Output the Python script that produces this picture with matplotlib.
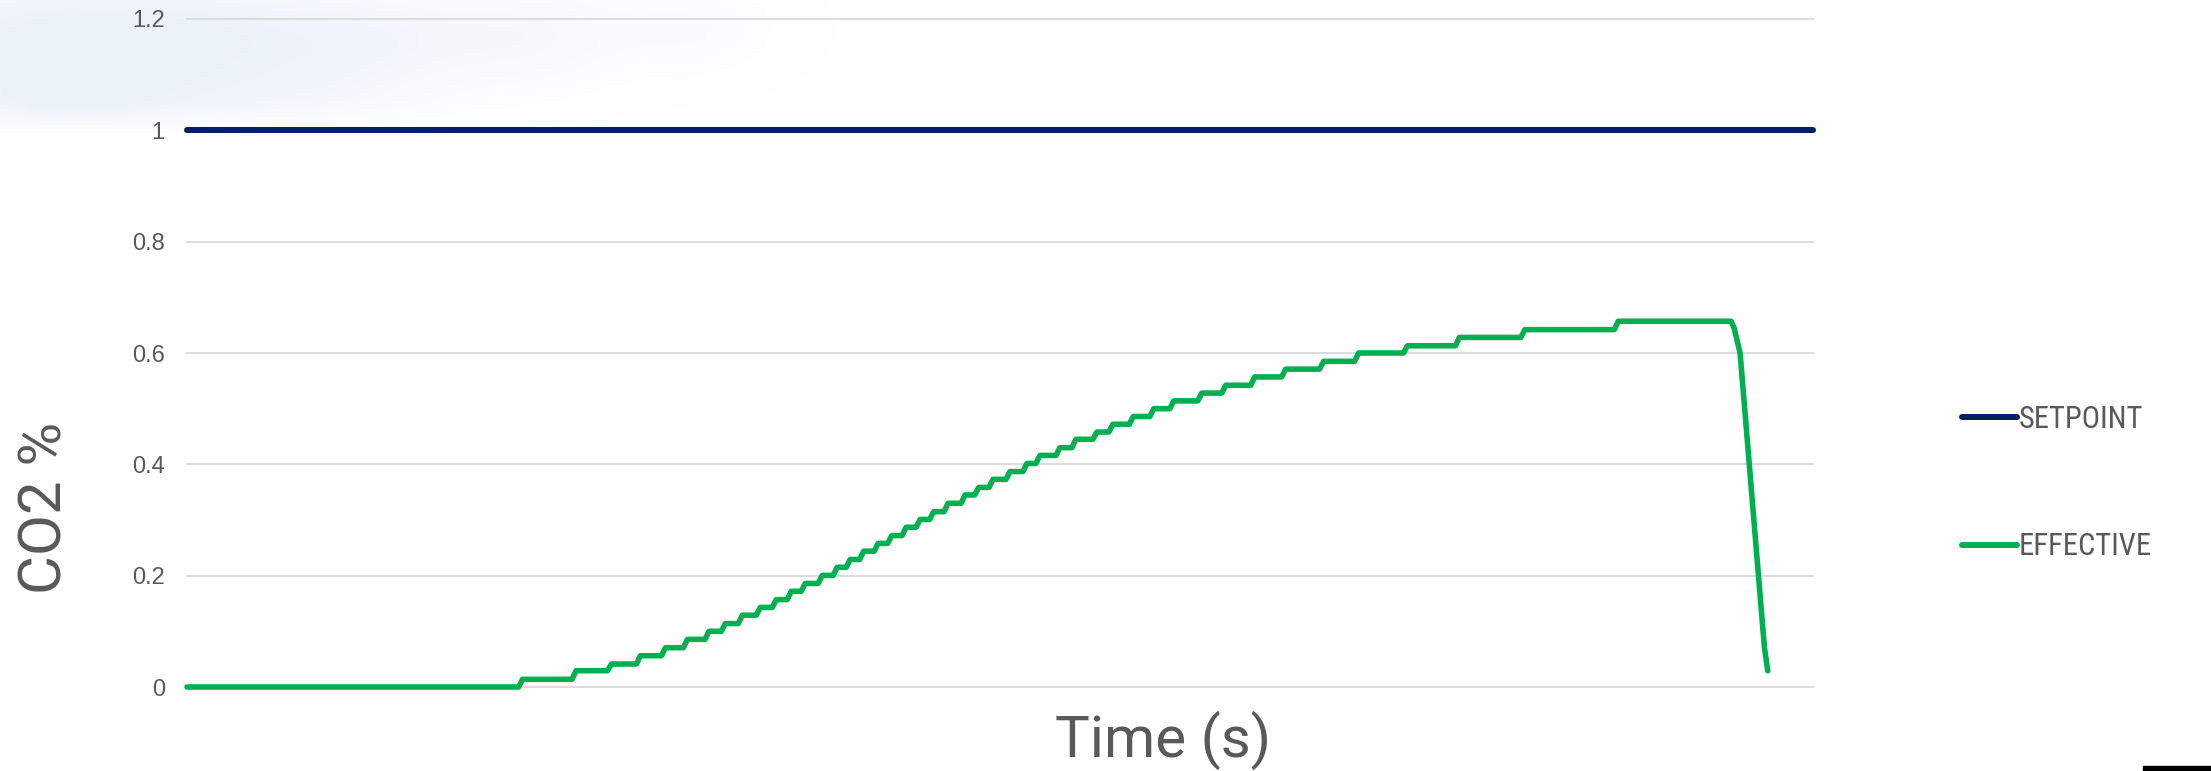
import numpy as np
import matplotlib
matplotlib.use("Agg")
import matplotlib.pyplot as plt
from matplotlib.lines import Line2D
from matplotlib.patches import Rectangle

plt.rcParams['font.family'] = ['Liberation Sans', 'DejaVu Sans']
NARROW = ['Roboto Condensed', 'Liberation Sans Narrow', 'Liberation Sans', 'DejaVu Sans']
TITLE = ['Roboto', 'Liberation Sans', 'DejaVu Sans']

# ---------------- data ----------------
series_names = ["SETPOINT", "EFFECTIVE"]

setpoint_t = [0, 1628]
setpoint_v = [1.0, 1.0]

# times (s) at which EFFECTIVE steps up, and level reached after each step
step_t = [332, 385.5, 421, 450, 475, 497, 518.6, 535, 552, 570, 586, 601, 615,
          632, 647, 660, 673.5, 688, 701.6, 716, 730, 743.6, 758, 775, 788.7,
          803, 820, 837, 850, 870, 886, 907, 923, 943.5, 964, 984, 1012, 1036,
          1065, 1096, 1134, 1169, 1218, 1270, 1335.5, 1429]
step_v = [0.0138, 0.0293, 0.0413, 0.0562, 0.0706, 0.0856, 0.100, 0.114, 0.129,
          0.143, 0.157, 0.172, 0.186, 0.2005, 0.215, 0.229, 0.244, 0.258, 0.272,
          0.287, 0.301, 0.315, 0.330, 0.345, 0.3585, 0.373, 0.387, 0.4016,
          0.416, 0.430, 0.445, 0.458, 0.472, 0.486, 0.500, 0.514, 0.528, 0.542,
          0.557, 0.571, 0.585, 0.600, 0.613, 0.628, 0.642, 0.657]
sample_dt = 4  # sampling interval (s)

# tail: drop after the last step
drop_t = [1546, 1549, 1555, 1579.3, 1582.7]
drop_v = [0.657, 0.645, 0.600, 0.072, 0.029]

y_ticks = [0, 0.2, 0.4, 0.6, 0.8, 1.0, 1.2]
y_tick_labels = ["0", "0.2", "0.4", "0.6", "0.8", "1", "1.2"]

# build EFFECTIVE path
eff_t = [0]
eff_v = [0.0]
prev = 0.0
for t, v in zip(step_t, step_v):
    eff_t += [t, t + sample_dt]
    eff_v += [prev, v]
    prev = v
eff_t += drop_t
eff_v += drop_v

# ---------------- figure ----------------
W, H = 2211, 771
fig = plt.figure(figsize=(W / 100, H / 100), dpi=100)

# faint cloud-like backdrop at top-left
bg = fig.add_axes([0, 1 - 140 / H, 960 / W, 140 / H], zorder=-5)
gx, gy = np.meshgrid(np.linspace(0, 1, 480), np.linspace(0, 1, 70))
blobs = [(0.02, 0.35, 0.14, 0.55, 0.9), (0.2, 0.25, 0.14, 0.45, 0.8),
         (0.38, 0.3, 0.12, 0.4, 0.6), (0.55, 0.25, 0.1, 0.35, 0.45),
         (0.72, 0.2, 0.08, 0.3, 0.25), (0.1, 0.8, 0.15, 0.3, 0.5),
         (0.3, 0.7, 0.12, 0.25, 0.3)]
field = np.zeros_like(gx)
for cx, cy, sx, sy, a in blobs:
    field += a * np.exp(-(((gx - cx) / sx) ** 2 + ((gy - cy) / sy) ** 2))
field = np.clip(field, 0, 1)
fade = np.clip((1 - gy) / 0.25, 0, 1)
rgba = np.zeros(gx.shape + (4,))
rgba[..., 0] = 0.87
rgba[..., 1] = 0.91
rgba[..., 2] = 0.97
rgba[..., 3] = field * fade * 0.55
bg.imshow(rgba, extent=[0, 1, 0, 1], aspect='auto', origin='upper')
bg.axis('off')

ax = fig.add_axes([187 / W, 1 - 687 / H, (1813 - 187) / W, (687 - 19) / H])
ax.patch.set_alpha(0)

ax.plot(setpoint_t, setpoint_v, color='#002060', lw=4.3,
        solid_capstyle='round', label=series_names[0], zorder=3, clip_on=False)
ax.plot(eff_t, eff_v, color='#00B050', lw=4.0, solid_capstyle='round',
        solid_joinstyle='round', label=series_names[1], zorder=3, clip_on=False)

ax.set_xlim(0, 1628)
ax.set_ylim(0, 1.2)
ax.set_yticks(y_ticks)
ax.set_yticklabels(y_tick_labels)
ax.set_xticks([])
ax.yaxis.grid(True, color='#D9D9D9', lw=1.3)
for gl in ax.get_ygridlines():
    gl.set_clip_on(False)
ax.set_axisbelow(True)
for s in ax.spines.values():
    s.set_visible(False)
ax.tick_params(axis='y', length=0, pad=16, labelsize=17, labelcolor='#595959')

fig.text(45 / W, 1 - 508 / H, "CO2 %", rotation=90, fontsize=43,
         family=TITLE, color='#595959', ha='center', va='center')
fig.text(1163 / W, 1 - 740 / H, "Time (s)", fontsize=42, family=TITLE,
         color='#595959', ha='center', va='center')

handles = [Line2D([], [], color='#002060', lw=4.3, solid_capstyle='round'),
           Line2D([], [], color='#00B050', lw=4.3, solid_capstyle='round')]
leg = fig.legend(handles, series_names, loc='center left',
                 bbox_to_anchor=(1934 / W, 1 - 483 / H), frameon=False,
                 prop={'family': NARROW, 'size': 22}, labelcolor='#595959',
                 handlelength=1.83, handletextpad=0.05, labelspacing=3.22)

fig.patches.append(Rectangle((2143 / W, 0), (W - 2143) / W, 5 / H,
                             transform=fig.transFigure, color='black'))

fig.savefig("out.png", dpi=100)
